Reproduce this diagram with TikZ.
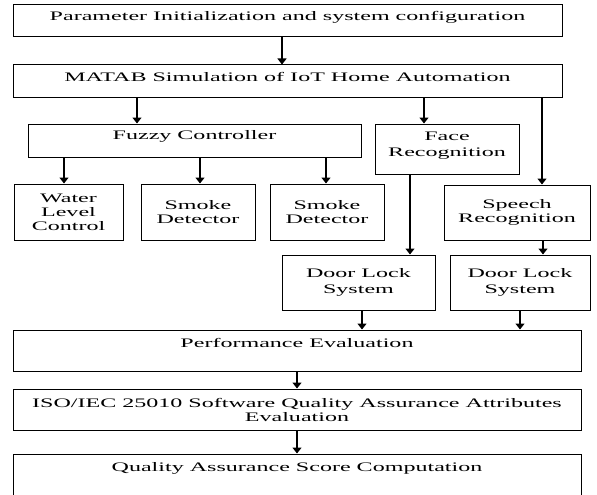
\documentclass[tikz,border=0pt]{standalone}
\usepackage{fontspec}
\setmainfont{Liberation Serif}[FakeStretch=1.85]
\usetikzlibrary{arrows.meta}
\newcommand{\blkfont}{\fontsize{13}{14}\selectfont}
\newcommand{\widefont}{\fontsize{13}{16}\selectfont}
\tikzset{
	blk/.style={draw, line width=1pt, rectangle, inner sep=0pt, align=center, font=\blkfont},
	lnk/.style={line width=1.3pt, -{Triangle[length=6pt,width=9pt]}},
}

\begin{document}
\begin{tikzpicture}[x=1pt, y=-1pt]
				\useasboundingbox (0,0) rectangle (597,495);
				% top of the flow
				\node[blk, minimum width=549pt, minimum height=32pt, text depth=10pt] (param) at (287.5,21) {Parameter Initialization and system configuration};
				\node[blk, minimum width=549pt, minimum height=32pt, text depth=8pt] (matab) at (287.5,81) {MATAB Simulation of IoT Home Automation};
				% controllers
				\node[blk, minimum width=333pt, minimum height=33pt, text depth=11pt] (fuzzy) at (194.5,140.5) {Fuzzy Controller};
				\node[blk, minimum width=144pt, minimum height=50pt, text depth=10pt, font=\widefont] (face) at (447,149) {Face\\Recognition};
				\node[blk, minimum width=109pt, minimum height=56pt] (water) at (68.5,212) {Water\\Level\\Control};
				\node[blk, minimum width=114pt, minimum height=56pt] (smokeA) at (198,212) {Smoke\\Detector};
				\node[blk, minimum width=114pt, minimum height=56pt] (smokeB) at (327,212) {Smoke\\Detector};
				\node[blk, minimum width=146pt, minimum height=55pt] (speech) at (517,212.5) {Speech\\Recognition};
				\node[blk, minimum width=153pt, minimum height=55pt, font=\widefont] (doorA) at (358.5,282.5) {Door Lock\\System};
				\node[blk, minimum width=140pt, minimum height=55pt, font=\widefont] (doorB) at (520,282.5) {Door Lock\\System};
				% evaluation
				\node[blk, minimum width=568pt, minimum height=41pt, text depth=15pt] (perf) at (297,350.5) {Performance Evaluation};
				\node[blk, minimum width=568pt, minimum height=41pt] (iso) at (297,409.5) {ISO/IEC 25010 Software Quality Assurance Attributes\\Evaluation};
				\node[blk, minimum width=568pt, minimum height=42pt, text depth=16pt] (score) at (297,475) {Quality Assurance Score Computation};

				\draw[lnk] (param.south -| 282,0) -- (matab.north -| 282,0);
				\draw[lnk] (matab.south -| 137,0) -- (fuzzy.north -| 137,0);
				\draw[lnk] (matab.south -| 424,0) -- (face.north -| 424,0);
				\draw[lnk] (matab.south -| 542,0) -- (speech.north -| 542,0);
				\draw[lnk] (fuzzy.south -| 64,0) -- (water.north -| 64,0);
				\draw[lnk] (fuzzy.south -| 200,0) -- (smokeA.north -| 200,0);
				\draw[lnk] (fuzzy.south -| 326,0) -- (smokeB.north -| 326,0);
				\draw[lnk] (face.south -| 410,0) -- (doorA.north -| 410,0);
				\draw[lnk] (speech.south -| 543,0) -- (doorB.north -| 543,0);
				\draw[lnk] (doorA.south -| 362,0) -- (perf.north -| 362,0);
				\draw[lnk] (doorB.south -| 520,0) -- (perf.north -| 520,0);
				\draw[lnk] (perf) -- (iso);
				\draw[lnk] (iso) -- (score);
\end{tikzpicture}
\end{document}
